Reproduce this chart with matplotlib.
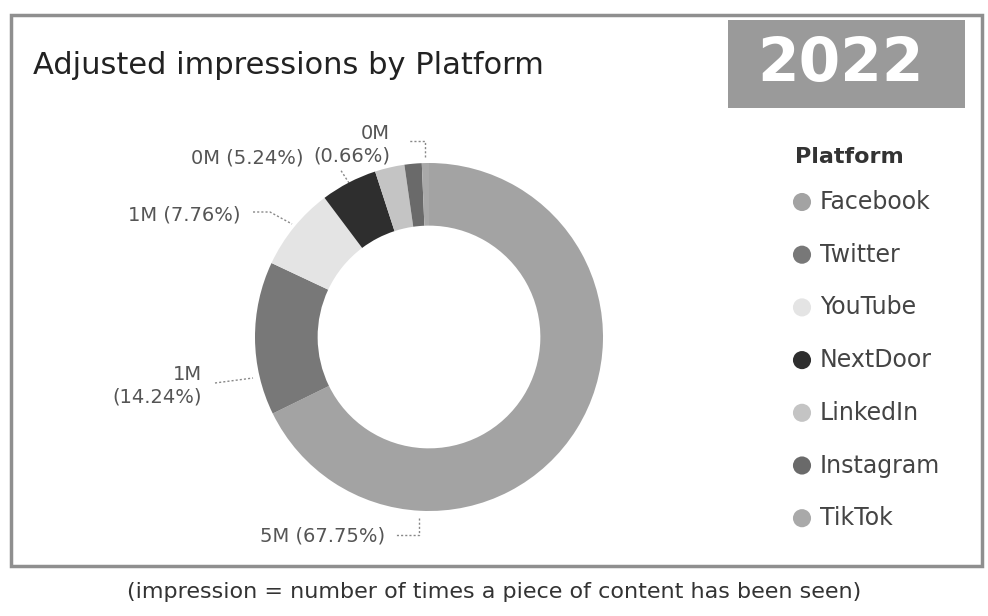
import matplotlib
matplotlib.use("Agg")
import matplotlib.pyplot as plt
from matplotlib.patches import Rectangle

# ---- data ----
platforms = ["Facebook", "Twitter", "YouTube", "NextDoor", "LinkedIn", "Instagram", "TikTok"]
shares = [67.75, 14.24, 7.76, 5.24, 2.75, 1.60, 0.66]          # percent
values_m = ["5M", "1M", "1M", "0M", "0M", "0M", "0M"]
colors = ["#a3a3a3", "#787878", "#e4e4e4", "#2e2e2e", "#c4c4c4", "#6a6a6a", "#a9a9a9"]
title = "Adjusted impressions by Platform"
year = "2022"
legend_title = "Platform"
footnote = "(impression = number of times a piece of content has been seen)"

W, H = 988, 616
fig = plt.figure(figsize=(W / 100, H / 100), dpi=100)
fig.patch.set_facecolor("white")

bg = fig.add_axes([0, 0, 1, 1])
bg.set_xlim(0, W)
bg.set_ylim(H, 0)
bg.axis("off")

# frame
bg.add_patch(Rectangle((11, 15), 971, 551, fill=False, edgecolor="#8f8f8f", lw=2.5))

# title
bg.text(33, 66, title, fontsize=22, color="#222222", va="center", ha="left")

# year box
bg.add_patch(Rectangle((728, 20), 237, 88, facecolor="#9a9a9a", edgecolor="none"))
bg.text(840, 65, year, fontsize=43, fontweight="bold", color="white",
        ha="center", va="center")

# donut
cx, cy, R = 429, 337, 174
pax = fig.add_axes([(cx - R) / W, 1 - (cy + R) / H, 2 * R / W, 2 * R / H])
pax.pie(shares, colors=colors, startangle=90, counterclock=False, radius=1,
        wedgeprops=dict(width=0.36, linewidth=0))
pax.set_xlim(-1, 1)
pax.set_ylim(-1, 1)
pax.axis("off")

# data labels (layout positions in pixels)
lab_color = "#555555"
lead_kw = dict(color="#888888", lw=1.0, ls=(0, (1.5, 1.5)))

def lbl(i, two_line):
    if two_line:
        return f"{values_m[i]}\n({shares[i]:.2f}%)"
    return f"{values_m[i]} ({shares[i]:.2f}%)"

# Facebook
bg.text(385, 536, lbl(0, False), fontsize=14, color=lab_color, ha="right", va="center")
bg.plot([419, 419, 395], [518, 535, 535], **lead_kw)
# Twitter
bg.text(202, 386, lbl(1, True), fontsize=14, color=lab_color, ha="right", va="center",
        multialignment="right", linespacing=1.25)
bg.plot([215, 253], [383, 378], **lead_kw)
# YouTube
bg.text(240, 215, lbl(2, False), fontsize=14, color=lab_color, ha="right", va="center")
bg.plot([253, 270, 292], [212, 212, 224], **lead_kw)
# NextDoor
bg.text(303, 158, lbl(3, False), fontsize=14, color=lab_color, ha="right", va="center")
bg.plot([349, 340], [183, 169], **lead_kw)
# TikTok
bg.text(390, 145, lbl(6, True), fontsize=14, color=lab_color, ha="right", va="center",
        multialignment="right", linespacing=1.25)
bg.plot([425, 425, 408], [157, 141, 141], **lead_kw)

# legend
bg.text(795, 157, legend_title, fontsize=16, fontweight="bold", color="#333333",
        ha="left", va="center")
y0, dy = 202, 52.7
for k, (name, col) in enumerate(zip(platforms, colors)):
    y = y0 + k * dy
    bg.scatter([802], [y], s=170, color=col, edgecolors="none", zorder=3)
    bg.text(820, y, name, fontsize=17, color="#444444", ha="left", va="center")

# footnote
bg.text(494, 592, footnote, fontsize=16, color="#333333", ha="center", va="center")

fig.savefig("out.png", dpi=100, facecolor="white")
